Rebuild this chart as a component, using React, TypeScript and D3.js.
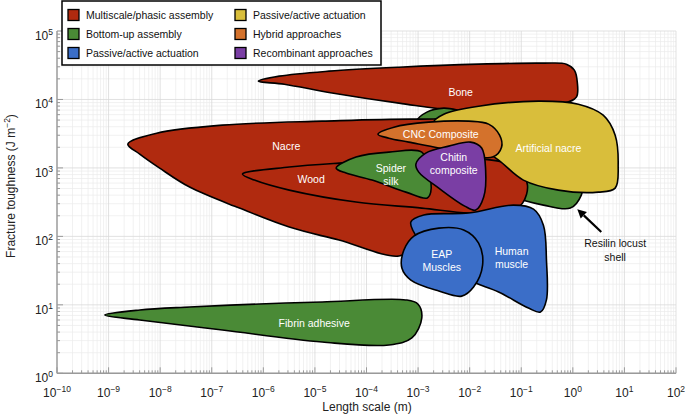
import React from 'react';
import * as d3 from 'd3';

type P = [number, number];

// Axis definitions
const X_EXPONENTS = [-10, -9, -8, -7, -6, -5, -4, -3, -2, -1, 0, 1, 2];
const Y_EXPONENTS = [0, 1, 2, 3, 4, 5];
const MINOR_STEPS = [2, 3, 4, 5, 6, 7, 8, 9];

// Colours of the categories
const RED = '#b02a0f';
const GREEN = '#4a8a36';
const BLUE = '#3b6ec8';
const YELLOW = '#d9be3b';
const ORANGE = '#d4722c';
const PURPLE = '#7a3ea4';

// Legend
const LEGEND_LABELS = [
  'Multiscale/phasic assembly', 'Bottom-up assembly', 'Passive/active actuation',
  'Passive/active actuation', 'Hybrid approaches', 'Recombinant approaches',
];
const LEGEND_COLORS = [RED, GREEN, BLUE, YELLOW, ORANGE, PURPLE];

// Region outlines: [length scale (m), fracture toughness (J m^-2)]
const BONE: P[] = [[8.0e-7, 18500], [2.04e-6, 21900], [1.88e-5, 25900], [4.25e-4, 29600], [1.49e-2, 32800], [0.269, 33900], [0.748, 32800], [1.07, 26800], [1.22, 17900], [1.17, 10800], [0.655, 8830], [6.12e-3, 6980], [4.25e-4, 8830], [2.15e-5, 12400], [2.55e-6, 16700]];
const RESILIN: P[] = [[9.46e-4, 4820], [1.48e-3, 6530], [3.15e-3, 7460], [9.57e-3, 6530], [8.85e-2, 5900], [0.525, 4990], [1.6, 785], [1.46, 401], [0.895, 259], [0.269, 286], [0.0568, 401], [9.57e-3, 929], [1.61e-3, 2550]];
const NACRE: P[] = [[2.36e-9, 2230], [8.55e-9, 3220], [1.61e-7, 4220], [1.38e-5, 4820], [1.03e-3, 5160], [1.49e-2, 4660], [3.18e-2, 2550], [4.15e-2, 785], [4.54e-2, 286], [2.91e-2, 185], [6.12e-3, 146], [1.03e-3, 74.7], [4.25e-4, 51.6], [2.94e-5, 88.3], [3.18e-6, 137], [3.44e-7, 259], [3.72e-8, 525], [9.77e-9, 993], [4.02e-9, 1590]];
const WOOD: P[] = [[3.93e-7, 812], [3.18e-6, 1030], [2.94e-5, 1175], [4.25e-4, 1300], [6.12e-3, 1390], [3.63e-2, 1257], [8.85e-2, 993], [0.132, 561], [0.106, 306], [0.0568, 226], [9.57e-3, 219], [1.18e-3, 259], [6.27e-5, 317], [3.18e-6, 474], [6.7e-7, 664]];
const ART_NACRE: P[] = [[2.01e-3, 4660], [3.15e-3, 6100], [1.49e-2, 7980], [0.215, 9440], [1.28, 8540], [3.88, 5900], [6.62, 3010], [7.57, 1100], [6.62, 507], [3.11, 443], [0.525, 474], [0.11, 664], [0.0363, 1300], [9.57e-3, 2550], [3.15e-3, 3560]];
const CNC: P[] = [[1.67e-4, 3110], [3.4e-4, 3940], [1.61e-3, 4660], [9.57e-3, 4820], [2.33e-2, 4360], [3.8e-2, 3010], [4.15e-2, 2010], [2.78e-2, 1440], [9.57e-3, 1540], [2.52e-3, 1950], [6.62e-4, 2380], [2.72e-4, 2720]];
const SILK: P[] = [[2.58e-5, 993], [6.27e-5, 1440], [2.72e-4, 1700], [1.18e-3, 1700], [1.61e-3, 929], [1.76e-3, 443], [1.48e-3, 362], [5.8e-4, 443], [1.28e-4, 664], [4.02e-5, 840]];
const CHITIN: P[] = [[9.06e-4, 1136], [1.41e-3, 1645], [3.93e-3, 2080], [1.04e-2, 2380], [1.71e-2, 1950], [2.04e-2, 929], [1.87e-2, 375], [1.31e-2, 242], [8.0e-3, 277], [2.52e-3, 507], [1.03e-3, 868]];
const HUMAN: P[] = [[7.24e-4, 162], [1.29e-3, 205], [9.57e-3, 219], [7.08e-2, 286], [0.173, 250], [0.269, 146], [0.308, 45.1], [0.308, 11.8], [0.236, 7.85], [0.138, 8.98], [3.63e-2, 15.4], [9.57e-3, 23.0], [2.52e-3, 45.1], [1.03e-3, 88.3]];
const EAP: P[] = [[5.31e-4, 63.1], [8.28e-4, 101], [2.52e-3, 132], [7.66e-3, 124], [1.49e-2, 79.8], [1.78e-2, 38.1], [1.19e-2, 18.2], [7.0e-3, 13.4], [2.52e-3, 15.9], [7.24e-4, 23.0], [4.85e-4, 34.5]];
const FIBRIN: P[] = [[8.47e-10, 7.1], [4.02e-9, 8.4], [3.72e-8, 9.29], [8.38e-7, 10.3], [1.38e-5, 11.0], [5.8e-4, 11.8], [9.89e-4, 10.3], [1.18e-3, 6.42], [7.57e-4, 3.28], [2.72e-4, 2.59], [1.38e-5, 2.86], [1.61e-7, 4.29], [4.02e-9, 6.0]];

// Region labels: lines, anchor in data space
const LABEL_TEXT = [['Bone'], ['Nacre'], ['Wood'], ['Spider', 'silk'], ['CNC Composite'], ['Chitin', 'composite'], ['Artificial nacre'], ['EAP', 'Muscles'], ['Human', 'muscle'], ['Fibrin adhesive']];
const LABEL_POS: P[] = [[6.7e-3, 12800], [2.78e-6, 2080], [8.47e-6, 686], [2.97e-4, 785], [2.75e-3, 3110], [4.91e-3, 1136], [0.337, 1950], [2.88e-3, 43.6], [6.49e-2, 48.2], [9.68e-6, 5.42]];

const ANNOT_TEXT = ['Resilin locust', 'shell'];
const ANNOT_POS: P = [6.62, 63.1];
const ARROW_FROM: P = [3.56, 116];
const ARROW_TO: P = [1.22, 250];

const FONT = '"Liberation Sans", Arial, Helvetica, sans-serif';

export default function App() {
  const x = d3.scaleLog().domain([1e-10, 1e2]).range([57, 676]);
  const y = d3.scaleLog().domain([1, 1e5]).range([373.3, 31]);
  const line = d3.line<P>().x(d => x(d[0])).y(d => y(d[1])).curve(d3.curveCatmullRomClosed.alpha(0.5));

  const regions: { pts: P[]; color: string }[] = [
    { pts: BONE, color: RED },
    { pts: RESILIN, color: GREEN },
    { pts: NACRE, color: RED },
    { pts: WOOD, color: RED },
    { pts: ART_NACRE, color: YELLOW },
    { pts: CNC, color: ORANGE },
    { pts: SILK, color: GREEN },
    { pts: CHITIN, color: PURPLE },
    { pts: HUMAN, color: BLUE },
    { pts: EAP, color: BLUE },
    { pts: FIBRIN, color: GREEN },
  ];

  const [x0, x1] = x.range();
  const [y0, y1] = y.range();

  const xMinor: number[] = [];
  X_EXPONENTS.slice(0, -1).forEach(e => MINOR_STEPS.forEach(k => xMinor.push(k * Math.pow(10, e))));
  const yMinor: number[] = [];
  Y_EXPONENTS.slice(0, -1).forEach(e => MINOR_STEPS.forEach(k => yMinor.push(k * Math.pow(10, e))));

  const ax = x(ARROW_FROM[0]), ay = y(ARROW_FROM[1]);
  const bx = x(ARROW_TO[0]), by = y(ARROW_TO[1]);
  const ang = Math.atan2(by - ay, bx - ax);
  const hl = 9, hw = 4.5;
  const baseX = bx - hl * Math.cos(ang), baseY = by - hl * Math.sin(ang);
  const head = `M${bx},${by}L${baseX + hw * Math.sin(ang)},${baseY - hw * Math.cos(ang)}L${baseX - hw * Math.sin(ang)},${baseY + hw * Math.cos(ang)}Z`;

  return (
    <svg width={685} height={419} style={{ position: 'absolute', left: 0, top: 0, background: '#fff' }} fontFamily={FONT}>
      {/* grid */}
      <g>
        {xMinor.map((v, i) => <line key={'xm' + i} x1={x(v)} x2={x(v)} y1={y0} y2={y1} stroke="#ebebeb" strokeWidth={0.7} />)}
        {yMinor.map((v, i) => <line key={'ym' + i} x1={x0} x2={x1} y1={y(v)} y2={y(v)} stroke="#ebebeb" strokeWidth={0.7} />)}
        {X_EXPONENTS.map(e => <line key={'xg' + e} x1={x(Math.pow(10, e))} x2={x(Math.pow(10, e))} y1={y0} y2={y1} stroke="#d9d9d9" strokeWidth={0.8} />)}
        {Y_EXPONENTS.map(e => <line key={'yg' + e} x1={x0} x2={x1} y1={y(Math.pow(10, e))} y2={y(Math.pow(10, e))} stroke="#d9d9d9" strokeWidth={0.8} />)}
      </g>
      {/* axes */}
      <g stroke="#9a9a9a" strokeWidth={1}>
        <line x1={x0} x2={x1} y1={y0} y2={y0} strokeWidth={1.4} />
        <line x1={x0} x2={x0} y1={y0} y2={y1} strokeWidth={1.4} />
        {xMinor.map((v, i) => <line key={'xt' + i} x1={x(v)} x2={x(v)} y1={y0} y2={y0 - 3} />)}
        {X_EXPONENTS.map(e => <line key={'xT' + e} x1={x(Math.pow(10, e))} x2={x(Math.pow(10, e))} y1={y0} y2={y0 - 6} />)}
        {yMinor.map((v, i) => <line key={'yt' + i} x1={x0} x2={x0 + 3} y1={y(v)} y2={y(v)} />)}
        {Y_EXPONENTS.map(e => <line key={'yT' + e} x1={x0} x2={x0 + 6} y1={y(Math.pow(10, e))} y2={y(Math.pow(10, e))} />)}
      </g>
      {/* tick labels */}
      <g fill="#222" fontSize={12}>
        {X_EXPONENTS.map(e => (
          <text key={'xl' + e} x={x(Math.pow(10, e))} y={y0 + 24} textAnchor="middle">
            10<tspan fontSize={8.5} dy={-5}>{e < 0 ? '\u2212' + Math.abs(e) : String(e)}</tspan>
          </text>
        ))}
        {Y_EXPONENTS.map(e => (
          <text key={'yl' + e} x={x0 - 4} y={y(Math.pow(10, e)) + 9} textAnchor="end">
            10<tspan fontSize={8.5} dy={-5}>{String(e)}</tspan>
          </text>
        ))}
      </g>
      {/* axis titles */}
      <text x={367} y={411} textAnchor="middle" fontSize={12} fill="#222">Length scale (m)</text>
      <text transform="translate(15,186) rotate(-90)" textAnchor="middle" fontSize={12} fill="#222">
        Fracture toughness (J m<tspan fontSize={8.5} dy={-5}>{'\u22122'}</tspan><tspan dy={5}>)</tspan>
      </text>
      {/* regions */}
      <g stroke="#000" strokeWidth={1.6} strokeLinejoin="round">
        {regions.map((r, i) => <path key={'r' + i} d={line(r.pts) || ''} fill={r.color} />)}
      </g>
      {/* region labels */}
      <g fill="#fff" fontSize={10.5} textAnchor="middle">
        {LABEL_TEXT.map((lines, i) => {
          const cx = x(LABEL_POS[i][0]);
          const cy = y(LABEL_POS[i][1]);
          const start = cy - ((lines.length - 1) * 13) / 2;
          return lines.map((t, j) => (
            <text key={'lb' + i + '-' + j} x={cx} y={start + j * 13} dy="0.35em">{t}</text>
          ));
        })}
      </g>
      {/* annotation */}
      <g fill="#111" fontSize={10.5} textAnchor="middle">
        {ANNOT_TEXT.map((t, j) => (
          <text key={'an' + j} x={x(ANNOT_POS[0])} y={y(ANNOT_POS[1]) - 7 + j * 14} dy="0.35em">{t}</text>
        ))}
      </g>
      <line x1={ax} y1={ay} x2={baseX} y2={baseY} stroke="#000" strokeWidth={2.2} />
      <path d={head} fill="#000" />
      {/* legend */}
      <g>
        <rect x={62} y={1} width={319} height={64} fill="#fff" stroke="#000" strokeWidth={1.5} />
        {LEGEND_LABELS.map((t, i) => {
          const col = Math.floor(i / 3);
          const row = i % 3;
          const sx = col === 0 ? 68 : 235;
          const cy = 15 + row * 19;
          return (
            <g key={'lg' + i}>
              <rect x={sx} y={cy - 5.5} width={11} height={11} fill={LEGEND_COLORS[i]} stroke="#000" strokeWidth={1.3} />
              <text x={sx + 18} y={cy} dy="0.35em" fontSize={10.5} fill="#111">{t}</text>
            </g>
          );
        })}
      </g>
    </svg>
  );
}
